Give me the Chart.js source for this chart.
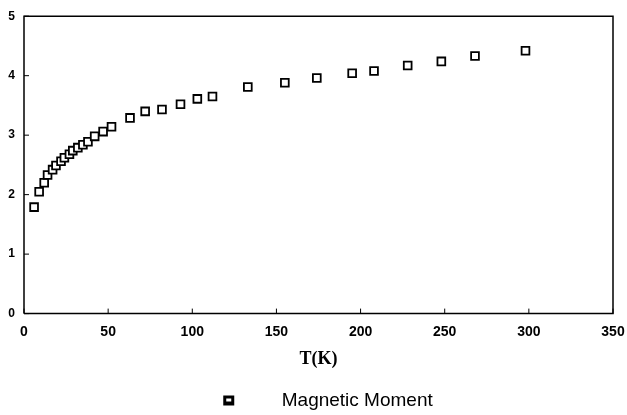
<!DOCTYPE html>
<html>
<head>
<meta charset="utf-8">
<script src="https://cdn.jsdelivr.net/npm/chart.js@4.4.0/dist/chart.umd.min.js"></script>
<style>
    html, body { margin: 0; padding: 0; background: #ffffff; }
    #chart_wrap { width: 627px; height: 415px; }
</style>
</head>
<body>
<div id="chart_wrap"><canvas id="chart_moment" width="627" height="415"></canvas></div>
<script>
// Chart Data
var temperatures = [6, 9, 12, 14, 17, 19, 22, 24, 27, 29, 32, 35, 38, 42, 47, 52, 63, 72, 82, 93, 103, 112, 133, 155, 174, 195, 208, 228, 248, 268, 298];
var moments = [1.79, 2.05, 2.20, 2.33, 2.42, 2.49, 2.56, 2.62, 2.68, 2.74, 2.79, 2.84, 2.89, 2.98, 3.06, 3.14, 3.29, 3.40, 3.43, 3.52, 3.61, 3.65, 3.81, 3.88, 3.96, 4.04, 4.08, 4.17, 4.24, 4.33, 4.42];
var seriesLabel = "Magnetic Moment";
var xTitle = "T(K)";
var xTicks = [0, 50, 100, 150, 200, 250, 300, 350];
var yTicks = [0, 1, 2, 3, 4, 5];

// Legend marker: thick square, with blank room so the text sits well to the right
function makeLegendMarker() {
    var c = document.createElement('canvas');
    c.width = 80;
    c.height = 12;
    var ctx = c.getContext('2d');
    ctx.fillStyle = '#000';
    ctx.fillRect(31, 1, 11, 10);
    ctx.fillStyle = '#fff';
    ctx.fillRect(34, 4, 5, 3);
    return c;
}

// Box round the plot and inward tick marks
var framePlugin = {
    id: 'frame',
    afterDraw: function(chart) {
        var ctx = chart.ctx;
        var area = chart.chartArea;
        var xs = chart.scales.x;
        var ys = chart.scales.y;
        ctx.save();
        ctx.strokeStyle = '#000';
        ctx.lineWidth = 1.5;
        ctx.beginPath();
        ctx.moveTo(area.left, area.bottom);
        ctx.lineTo(area.left, area.top);
        ctx.lineTo(area.right, area.top);
        ctx.lineTo(area.right, area.bottom);
        ctx.lineTo(area.left, area.bottom);
        ctx.stroke();

        ctx.lineWidth = 1;
        ctx.beginPath();
        xTicks.forEach(function(v) {
            var px = xs.getPixelForValue(v);
            ctx.moveTo(px, area.bottom);
            ctx.lineTo(px, area.bottom - 5);
        });
        yTicks.forEach(function(v) {
            var py = ys.getPixelForValue(v);
            ctx.moveTo(area.left, py);
            ctx.lineTo(area.left + 5, py);
        });
        ctx.stroke();
        ctx.restore();
    }
};

var points = temperatures.map(function(t, i) {
    return { x: t, y: moments[i] };
});

var elChart = document.getElementById('chart_moment');
var objChart = new Chart(elChart, {
    type: 'scatter',
    data: {
        datasets: [{
            label: seriesLabel,
            data: points,
            pointStyle: 'rect',
            pointRadius: 5.5,
            pointBorderWidth: 1.8,
            borderColor: '#000',
            backgroundColor: '#fff'
        }]
    },
    options: {
        responsive: false,
        animation: false,
        layout: {
            padding: { left: 0, right: 2, top: 15, bottom: -5 }
        },
        plugins: {
            tooltip: { enabled: false },
            legend: {
                position: 'bottom',
                labels: {
                    usePointStyle: true,
                    pointStyle: makeLegendMarker(),
                    pointStyleWidth: 80,
                    color: '#000',
                    padding: 0,
                    font: { family: 'Liberation Sans', size: 19 }
                }
            }
        },
        scales: {
            x: {
                type: 'linear',
                min: 0,
                max: 350,
                afterBuildTicks: function(scale) {
                    scale.ticks = xTicks.map(function(v) { return { value: v }; });
                },
                afterFit: function(scale) {
                    scale.paddingLeft = 0;
                    scale.paddingRight = 14;
                },
                grid: { display: false, drawTicks: false },
                border: { display: false },
                ticks: {
                    color: '#000',
                    padding: 10,
                    maxRotation: 0,
                    font: { family: 'Liberation Sans', weight: 'bold', size: 14 }
                },
                title: {
                    display: true,
                    text: xTitle,
                    color: '#000',
                    padding: { top: -2, bottom: 21 },
                    font: { family: 'Liberation Serif', weight: 'bold', size: 18 }
                }
            },
            y: {
                type: 'linear',
                min: 0,
                max: 5,
                afterBuildTicks: function(scale) {
                    scale.ticks = yTicks.map(function(v) { return { value: v }; });
                },
                afterFit: function(scale) {
                    scale.width = 24;
                },
                grid: { display: false, drawTicks: false },
                border: { display: false },
                ticks: {
                    color: '#000',
                    padding: 9,
                    font: { family: 'Liberation Sans', weight: 'bold', size: 12 }
                }
            }
        }
    },
    plugins: [framePlugin]
});
</script>
</body>
</html>
